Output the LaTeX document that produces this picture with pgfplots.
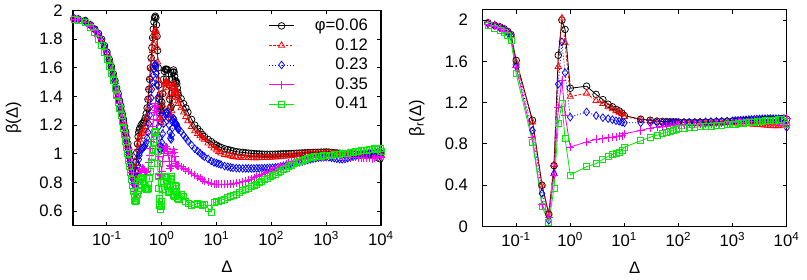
\documentclass[border=0pt]{standalone}
\usepackage{fontspec}
\setmainfont{Liberation Sans}
\usepackage{pgfplots}
\pgfplotsset{compat=1.18}
\usepackage{pgfplotstable}

\definecolor{gpred}{RGB}{255,0,0}
\definecolor{gpblue}{RGB}{0,0,255}
\definecolor{gpmag}{RGB}{255,0,255}
\definecolor{gpgreen}{RGB}{0,235,0}

% left panel: beta(Delta)
\pgfplotstableread{
D k r b m g
0.025 1.945 1.945 1.945 1.940 1.940
0.03 1.940 1.940 1.938 1.935 1.932
0.04 1.930 1.928 1.925 1.920 1.915
0.05 1.900 1.900 1.895 1.890 1.880
0.06 1.870 1.868 1.865 1.860 1.845
0.07 1.840 1.835 1.830 1.820 1.800
0.08 1.800 1.795 1.790 1.780 1.755
0.09 1.755 1.750 1.745 1.735 1.710
0.10 1.710 1.705 1.700 1.690 1.660
0.11 1.660 1.655 1.650 1.640 1.610
0.12 1.610 1.605 1.600 1.590 1.560
0.13 1.560 1.555 1.550 1.540 1.510
0.14 1.510 1.505 1.500 1.490 1.460
0.15 1.460 1.455 1.450 1.440 1.410
0.16 1.420 1.410 1.405 1.395 1.360
0.17 1.370 1.365 1.360 1.350 1.315
0.18 1.330 1.320 1.315 1.305 1.270
0.19 1.280 1.275 1.270 1.260 1.225
0.20 1.240 1.230 1.225 1.215 1.180
0.21 1.190 1.185 1.180 1.170 1.135
0.22 1.150 1.145 1.135 1.125 1.090
0.23 1.110 1.100 1.090 1.080 1.045
0.24 1.070 1.060 1.050 1.035 1.000
0.25 1.030 1.020 1.010 0.995 0.955
0.26 0.990 0.980 0.970 0.950 0.910
0.27 0.950 0.945 0.930 0.910 0.870
0.28 0.920 0.910 0.890 0.870 0.820
0.29 0.890 0.875 0.855 0.830 0.780
0.30 0.860 0.850 0.820 0.790 0.740
0.31 0.845 0.835 0.795 0.760 0.700
0.32 0.850 0.830 0.780 0.735 0.675
0.33 0.880 0.845 0.780 0.720 0.670
0.34 0.940 0.880 0.800 0.725 0.675
0.35 1.010 0.930 0.840 0.740 0.690
0.36 1.070 0.980 0.880 0.760 0.715
0.37 1.120 1.030 0.920 0.790 0.745
0.38 1.150 1.070 0.960 0.820 0.780
0.39 1.170 1.100 0.990 0.850 0.810
0.40 1.180 1.120 1.010 0.870 0.825
0.42 1.200 1.140 1.030 0.890 0.835
0.44 1.210 1.150 1.040 0.900 0.830
0.46 1.220 1.160 1.045 0.895 0.810
0.48 1.230 1.170 1.050 0.885 0.785
0.50 1.250 1.190 1.060 0.875 0.760
0.52 1.280 1.220 1.080 0.870 0.750
0.54 1.320 1.260 1.110 0.875 0.750
0.56 1.380 1.320 1.150 0.900 0.760
0.58 1.450 1.390 1.210 0.940 0.790
0.60 1.520 1.460 1.270 0.990 0.830
0.62 1.600 1.530 1.330 1.040 0.880
0.64 1.670 1.600 1.390 1.090 0.930
0.66 1.740 1.660 1.450 1.140 0.980
0.68 1.810 1.720 1.500 1.190 1.030
0.70 1.870 1.770 1.550 1.240 1.080
0.72 1.920 1.820 1.590 1.290 1.120
0.74 1.950 1.850 1.615 1.330 1.150
0.76 1.960 1.865 1.625 1.350 1.160
0.78 1.950 1.860 1.610 1.340 1.150
0.80 1.900 1.820 1.560 1.300 1.100
0.82 1.820 1.740 1.480 1.230 1.020
0.84 1.720 1.640 1.390 1.150 0.930
0.86 1.600 1.520 1.290 1.060 0.840
0.88 1.480 1.410 1.190 0.980 0.760
0.90 1.380 1.310 1.110 0.910 0.690
0.92 1.320 1.250 1.060 0.860 0.640
0.94 1.300 1.220 1.030 0.830 0.615
0.96 1.310 1.220 1.030 0.830 0.610
0.98 1.330 1.240 1.050 0.850 0.630
1.00 1.360 1.270 1.080 0.880 0.670
1.04 1.420 1.340 1.140 0.950 0.750
1.08 1.520 1.430 1.210 1.000 0.810
1.12 1.575 1.485 1.260 1.035 0.840
1.16 1.590 1.500 1.280 1.050 0.845
1.20 1.590 1.500 1.290 1.050 0.835
1.24 1.590 1.500 1.290 1.040 0.810
1.28 1.585 1.490 1.280 1.020 0.770
1.32 1.560 1.460 1.250 0.990 0.730
1.36 1.480 1.400 1.200 0.950 0.740
1.40 1.380 1.330 1.150 0.920 0.790
1.44 1.320 1.270 1.110 0.900 0.830
1.48 1.330 1.250 1.100 0.910 0.840
1.52 1.420 1.300 1.130 0.950 0.820
1.56 1.520 1.400 1.180 1.000 0.780
1.60 1.570 1.470 1.230 1.030 0.740
1.64 1.585 1.490 1.250 1.030 0.710
1.68 1.570 1.470 1.240 1.010 0.700
1.72 1.540 1.440 1.220 0.980 0.720
1.76 1.510 1.420 1.210 0.950 0.760
1.80 1.500 1.430 1.210 0.930 0.780
1.84 1.505 1.440 1.210 0.920 0.770
1.88 1.490 1.420 1.200 0.920 0.740
1.92 1.460 1.390 1.190 0.920 0.710
1.96 1.430 1.370 1.180 0.915 0.690
2.00 1.410 1.350 1.170 0.915 0.680
2.25 1.385 1.320 1.155 0.910 0.720
2.5 1.350 1.290 1.130 0.900 0.700
2.75 1.320 1.260 1.110 0.890 0.670
3 1.290 1.230 1.090 0.880 0.655
3.5 1.240 1.190 1.060 0.865 0.640
4 1.200 1.160 1.035 0.850 0.645
4.5 1.175 1.140 1.020 0.840 0.655
5 1.155 1.125 1.005 0.830 0.650
5.5 1.135 1.110 0.990 0.820 0.640
6 1.120 1.100 0.980 0.810 0.645
7 1.100 1.075 0.965 0.800 0.620
8 1.085 1.055 0.950 0.795 0.595
9 1.070 1.040 0.940 0.790 0.660
10 1.060 1.025 0.935 0.790 0.665
11 1.050 1.015 0.930 0.788 0.670
12 1.045 1.005 0.925 0.788 0.677
14 1.035 0.995 0.915 0.788 0.685
16 1.030 0.990 0.910 0.789 0.695
18 1.025 0.985 0.905 0.790 0.703
20 1.020 0.980 0.902 0.792 0.710
23 1.015 0.977 0.900 0.795 0.720
26 1.012 0.975 0.899 0.799 0.730
30 1.010 0.974 0.898 0.805 0.742
34 1.007 0.973 0.898 0.810 0.752
38 1.005 0.973 0.898 0.817 0.760
43 1.003 0.972 0.898 0.825 0.770
48 1.001 0.972 0.898 0.833 0.780
54 1.000 0.972 0.899 0.840 0.790
60 0.999 0.972 0.899 0.848 0.800
67 0.998 0.973 0.900 0.856 0.810
75 0.997 0.973 0.900 0.864 0.820
84 0.997 0.974 0.901 0.872 0.830
94 0.997 0.975 0.902 0.880 0.840
105 0.997 0.976 0.903 0.888 0.850
118 0.998 0.977 0.905 0.896 0.860
132 0.998 0.978 0.907 0.904 0.870
148 0.999 0.980 0.910 0.912 0.880
165 1.000 0.982 0.914 0.920 0.890
185 1.000 0.984 0.918 0.927 0.900
207 1.001 0.986 0.922 0.934 0.910
232 1.002 0.988 0.927 0.940 0.920
260 1.003 0.990 0.932 0.946 0.930
290 1.004 0.992 0.937 0.951 0.940
325 1.005 0.994 0.942 0.956 0.948
365 1.006 0.996 0.947 0.960 0.955
410 1.007 0.998 0.952 0.964 0.962
460 1.008 1.000 0.957 0.968 0.968
515 1.009 1.001 0.962 0.971 0.973
575 1.010 1.002 0.966 0.974 0.977
645 1.010 1.003 0.970 0.977 0.980
720 1.011 1.003 0.973 0.979 0.983
810 1.012 1.004 0.975 0.980 0.985
900 1.012 1.004 0.976 0.981 0.987
1000 1.013 1.005 0.977 0.981 0.988
1120 1.012 1.005 0.976 0.982 0.990
1250 1.010 1.004 0.973 0.982 0.992
1400 1.008 1.003 0.970 0.982 0.994
1570 1.006 1.001 0.966 0.982 0.996
1760 1.004 0.999 0.963 0.981 0.998
1970 1.003 0.997 0.962 0.980 1.000
2200 1.002 0.995 0.965 0.979 1.003
2470 1.001 0.993 0.970 0.978 1.006
2760 1.000 0.991 0.975 0.977 1.009
3090 0.999 0.989 0.980 0.976 1.012
3460 0.998 0.987 0.985 0.975 1.015
3880 0.997 0.985 0.990 0.974 1.018
4340 0.996 0.984 0.994 0.973 1.021
4860 0.995 0.983 0.997 0.972 1.024
5440 0.994 0.982 1.000 0.970 1.027
6090 0.993 0.981 1.002 0.968 1.030
6820 1.005 0.980 1.004 0.966 1.033
7640 0.990 0.985 1.006 0.970 1.036
8550 0.975 0.990 1.010 0.978 1.030
9580 0.965 1.010 1.020 0.985 1.040
10000 1.000 0.995 1.000 0.975 1.015
}\leftdata

% right panel: beta_r(Delta)
\pgfplotstableread{
D k r b m g
0.03 1.975 1.975 1.965 1.960 1.945
0.04 1.950 1.955 1.945 1.940 1.925
0.05 1.935 1.935 1.925 1.920 1.905
0.06 1.915 1.915 1.905 1.895 1.880
0.07 1.890 1.890 1.880 1.870 1.850
0.08 1.860 1.860 1.850 1.835 1.800
0.1 1.610 1.590 1.555 1.540 1.480
0.2 1.030 1.010 0.930 0.860 0.820
0.3 0.400 0.400 0.320 0.210 0.195
0.4 0.120 0.130 0.060 0.090 0.040
0.5 0.590 0.600 0.510 0.500 0.370
0.6 1.660 1.550 1.380 1.150 1.000
0.7 2.000 2.020 1.790 1.420 1.190
0.8 1.910 1.780 1.490 1.080 0.850
1 1.340 1.260 1.060 0.770 0.500
2 1.360 1.290 1.110 0.820 0.580
3 1.280 1.220 1.075 0.845 0.610
4 1.230 1.190 1.055 0.850 0.650
5 1.185 1.160 1.045 0.860 0.680
6 1.160 1.140 1.035 0.865 0.700
7 1.135 1.120 1.025 0.870 0.710
8 1.120 1.105 1.020 0.875 0.720
9 1.100 1.090 1.010 0.880 0.740
10 1.075 1.065 1.005 0.900 0.770
20 1.040 1.035 1.005 0.930 0.830
30 1.030 1.025 1.005 0.955 0.865
40 1.020 1.020 1.005 0.962 0.885
50 1.018 1.015 1.005 0.968 0.900
60 1.016 1.012 1.005 0.973 0.915
70 1.015 1.010 1.006 0.977 0.925
80 1.014 1.010 1.006 0.980 0.935
90 1.013 1.009 1.007 0.983 0.942
100 1.012 1.008 1.007 0.985 0.948
126 1.011 1.006 1.008 0.987 0.953
158 1.010 1.004 1.009 0.989 0.958
200 1.010 1.002 1.010 0.991 0.962
251 1.011 1.001 1.012 0.993 0.966
316 1.012 1.000 1.014 0.995 0.970
398 1.014 1.000 1.016 0.997 0.974
501 1.016 1.001 1.018 0.999 0.978
631 1.018 1.002 1.020 1.001 0.982
794 1.020 1.003 1.022 1.003 0.986
1000 1.022 1.004 1.024 1.005 0.990
1122 1.023 1.003 1.026 1.006 0.993
1259 1.024 1.002 1.028 1.008 0.996
1413 1.025 1.000 1.030 1.010 0.999
1585 1.026 0.998 1.032 1.012 1.002
1778 1.027 0.996 1.034 1.014 1.005
1995 1.028 0.994 1.036 1.016 1.008
2239 1.029 0.992 1.038 1.018 1.011
2512 1.030 0.990 1.040 1.019 1.014
2818 1.031 0.988 1.042 1.020 1.017
3162 1.032 0.986 1.043 1.021 1.020
3548 1.033 0.984 1.044 1.022 1.023
3981 1.034 0.982 1.045 1.022 1.026
4467 1.035 0.980 1.046 1.021 1.028
5012 1.036 0.978 1.046 1.020 1.030
5623 1.037 0.976 1.046 1.018 1.032
6310 1.038 0.975 1.045 1.015 1.033
7079 1.040 0.976 1.044 1.010 1.034
7943 1.045 0.980 1.042 1.000 1.035
8913 1.050 0.990 1.000 0.980 1.020
10000 1.040 1.000 0.960 1.050 0.990
}\rightdata

\tikzset{
  serK/.style={black, line width=0.5pt, mark=o, mark size=2pt, mark options={solid, line width=0.45pt}},
  serR/.style={gpred, line width=0.5pt, dash pattern=on 1.5pt off 1pt, mark=triangle, mark size=2.2pt, mark options={solid, line width=0.45pt}},
  serB/.style={gpblue, line width=0.5pt, dash pattern=on 0.6pt off 1.2pt, mark=diamond, mark size=2.3pt, mark options={solid, line width=0.45pt}},
  serM/.style={gpmag, line width=0.5pt, mark=+, mark size=2.4pt, mark options={solid, line width=0.45pt}},
  serG/.style={gpgreen, line width=0.5pt, mark=square, mark size=1.8pt, mark options={solid, line width=0.45pt}},
}

\begin{document}
\begin{tikzpicture}
\path[use as bounding box] (0pt,0pt) rectangle (484.2pt,168pt);

\begin{axis}[
  scale only axis, xmode=log, xmin=0.024, xmax=10000,
  xtick={0.1,1,10,100,1000,10000},
  xticklabels={10\textsuperscript{-1},10\textsuperscript{0},10\textsuperscript{1},10\textsuperscript{2},10\textsuperscript{3},10\textsuperscript{4}},
  xminorticks=false, yminorticks=false,
  tick align=inside, major tick length=2.3pt,
  axis line style={line width=0.8pt},
  tick style={black, line width=0.6pt},
  tick label style={font=\fontsize{10}{12}\selectfont},
  label style={font=\fontsize{10}{12}\selectfont},
  xlabel={Δ},
  x label style={at={(axis description cs:0.5,0)}, anchor=base, yshift=-28.5pt},
  clip=false,
  at={(43.8pt,32.7pt)}, anchor=south west,
  width=184.8pt, height=129pt,
  ymin=0.5, ymax=2,
  ytick={0.6,0.8,1,1.2,1.4,1.6,1.8,2},
  yticklabels={0.6,0.8,1,1.2,1.4,1.6,1.8,2},
  yticklabel style={xshift=-2.7pt},
  ylabel={β(Δ)},
  y label style={at={(axis description cs:-0.193,0.5)}, anchor=center},
  legend image code/.code={\draw[mark repeat=2,mark phase=2,#1] plot coordinates {(0pt,0pt) (7.5pt,0pt) (15pt,0pt)};},
  legend style={draw=none, fill=none, at={(axis description cs:1,1)}, anchor=north east,
    xshift=-5.7pt, yshift=-2.8pt, inner sep=0pt, row sep=-0.75pt,
    font=\fontsize{10}{12}\selectfont},
]
\addplot[serK] table[x=D,y=k] {\leftdata};
\addlegendentry{\makebox[42pt][r]{φ=0.06}}
\addplot[serR] table[x=D,y=r] {\leftdata};
\addlegendentry{\makebox[42pt][r]{0.12}}
\addplot[serB] table[x=D,y=b] {\leftdata};
\addlegendentry{\makebox[42pt][r]{0.23}}
\addplot[serM] table[x=D,y=m] {\leftdata};
\addlegendentry{\makebox[42pt][r]{0.35}}
\addplot[serG] table[x=D,y=g] {\leftdata};
\addlegendentry{\makebox[42pt][r]{0.41}}
\end{axis}

\begin{axis}[
  scale only axis, xmode=log, xmin=0.024, xmax=10000,
  xtick={0.1,1,10,100,1000,10000},
  xticklabels={10\textsuperscript{-1},10\textsuperscript{0},10\textsuperscript{1},10\textsuperscript{2},10\textsuperscript{3},10\textsuperscript{4}},
  xminorticks=false, yminorticks=false,
  tick align=inside, major tick length=2.3pt,
  axis line style={line width=0.8pt},
  tick style={black, line width=0.6pt},
  tick label style={font=\fontsize{10}{12}\selectfont},
  label style={font=\fontsize{10}{12}\selectfont},
  xlabel={Δ},
  x label style={at={(axis description cs:0.5,0)}, anchor=base, yshift=-28.5pt},
  clip=false,
  at={(289.6pt,32.1pt)}, anchor=south west,
  width=182.4pt, height=130pt,
  ymin=0, ymax=2.1,
  ytick={0,0.4,0.8,1.2,1.6,2},
  yticklabels={0,0.4,0.8,1.2,1.6,2},
  yticklabel style={xshift=-5.3pt},
  ylabel={β\textsubscript{r}(Δ)},
  y label style={at={(axis description cs:-0.217,0.5)}, anchor=center},
]
\addplot[serK] table[x=D,y=k] {\rightdata};
\addplot[serR] table[x=D,y=r] {\rightdata};
\addplot[serB] table[x=D,y=b] {\rightdata};
\addplot[serM] table[x=D,y=m] {\rightdata};
\addplot[serG] table[x=D,y=g] {\rightdata};
\end{axis}
\end{tikzpicture}
\end{document}
